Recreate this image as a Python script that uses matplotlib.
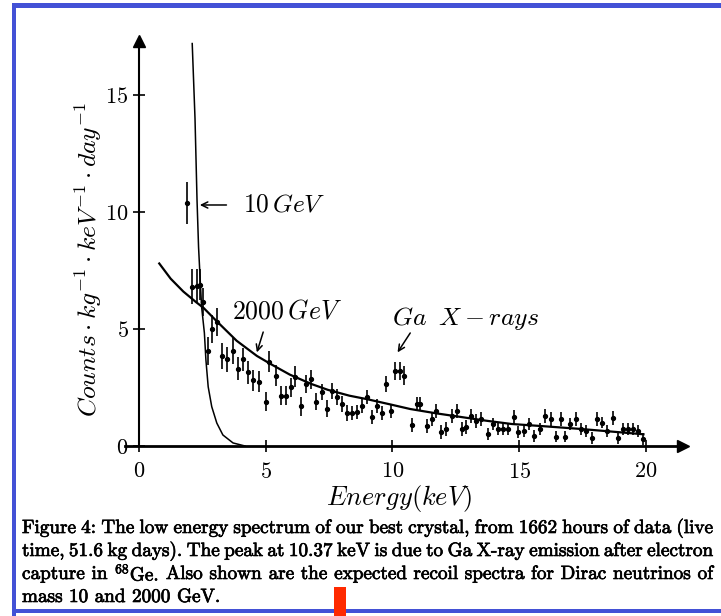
import matplotlib
matplotlib.use("Agg")
import matplotlib.pyplot as plt
import matplotlib.patheffects as pe
from matplotlib.patches import Rectangle

plt.rcParams.update({
    "font.family": "cmr10",
    "mathtext.fontset": "cm",
    "axes.formatter.use_mathtext": True,
    "axes.unicode_minus": False,
})

# ── Data ─────────────────────────────────────────────────────────────────────
energy = [1.90, 2.10, 2.28, 2.40, 2.53, 2.73, 2.88, 3.08, 3.28, 3.48,
          3.72, 3.90, 4.10, 4.30, 4.50, 4.75, 5.00, 5.14, 5.40, 5.60,
          5.80, 6.00, 6.17, 6.40, 6.60, 6.80, 7.00, 7.20, 7.43, 7.63,
          7.83, 8.00, 8.20, 8.40, 8.60, 8.80, 9.00, 9.20, 9.40, 9.57,
          9.76, 9.96, 10.10, 10.28, 10.47, 10.75, 10.95, 11.10, 11.35, 11.55,
          11.73, 11.93, 12.10, 12.33, 12.53, 12.73, 12.90, 13.10, 13.30, 13.50,
          13.75, 13.95, 14.15, 14.35, 14.55, 14.80, 14.95, 15.20, 15.40, 15.60,
          15.80, 16.00, 16.25, 16.45, 16.65, 16.80, 17.00, 17.23, 17.43, 17.63,
          17.87, 18.06, 18.26, 18.46, 18.70, 18.90, 19.10, 19.30, 19.50, 19.70,
          19.90]
counts = [10.4, 6.8, 6.85, 6.9, 6.15, 4.06, 5.0, 5.3, 3.85, 3.7,
          4.06, 3.3, 3.7, 3.15, 2.8, 2.75, 1.9, 3.6, 3.0, 2.15,
          2.15, 2.5, 2.95, 1.7, 2.65, 2.85, 1.9, 2.3, 1.6, 2.35,
          2.1, 1.8, 1.4, 1.4, 1.45, 1.7, 2.1, 1.25, 1.7, 1.4,
          2.65, 1.5, 3.2, 3.2, 3.0, 0.9, 1.8, 1.8, 0.85, 1.15,
          1.5, 0.6, 0.73, 1.3, 1.5, 0.73, 0.8, 1.3, 1.07, 1.15,
          0.5, 0.95, 0.73, 0.73, 0.73, 1.24, 0.6, 0.64, 0.95, 0.43,
          0.73, 1.3, 1.15, 0.4, 1.15, 0.4, 0.95, 1.15, 0.73, 0.64,
          0.34, 1.15, 1.0, 0.64, 1.2, 0.34, 0.73, 0.73, 0.73, 0.64,
          0.3]
errors = [0.9, 0.75, 0.7, 0.65, 0.6, 0.6, 0.6, 0.6, 0.55, 0.55,
          0.55, 0.5, 0.5, 0.5, 0.45, 0.45, 0.4, 0.45, 0.45, 0.4,
          0.4, 0.4, 0.45, 0.4, 0.4, 0.4, 0.35, 0.35, 0.35, 0.35,
          0.35, 0.35, 0.35, 0.3, 0.3, 0.3, 0.3, 0.3, 0.3, 0.3,
          0.35, 0.3, 0.4, 0.4, 0.4, 0.3, 0.3, 0.3, 0.3, 0.3,
          0.3, 0.3, 0.3, 0.3, 0.3, 0.3, 0.3, 0.3, 0.3, 0.3,
          0.25, 0.25, 0.25, 0.25, 0.25, 0.3, 0.25, 0.25, 0.25, 0.25,
          0.25, 0.3, 0.3, 0.25, 0.3, 0.25, 0.25, 0.3, 0.25, 0.25,
          0.25, 0.3, 0.25, 0.25, 0.3, 0.25, 0.25, 0.25, 0.25, 0.25,
          0.25]

# expected recoil spectrum, 10 GeV neutrino
e_10gev = [2.10, 2.21, 2.29, 2.35, 2.41, 2.47, 2.58, 2.64, 2.73, 2.87,
           3.07, 3.31, 3.71, 4.18]
c_10gev = [17.2, 14.0, 10.5, 8.5, 7.2, 5.95, 4.83, 3.68, 2.53, 1.68,
           0.98, 0.47, 0.13, 0.0]

# expected recoil spectrum, 2000 GeV neutrino
e_2000gev = [0.80, 1.25, 1.75, 2.25, 2.55, 3.05, 3.85, 4.65, 5.20, 5.95,
             6.80, 7.45, 8.30, 9.00, 9.90, 10.70, 11.70, 12.70, 13.70, 14.70,
             15.90, 17.40, 18.60, 19.90]
c_2000gev = [7.8, 7.15, 6.6, 6.15, 5.9, 5.35, 4.5, 3.85, 3.5, 3.05,
             2.65, 2.4, 2.15, 2.0, 1.78, 1.58, 1.4, 1.24, 1.08, 0.94,
             0.85, 0.73, 0.62, 0.5]

x_ticks = [0, 5, 10, 15, 20]
y_ticks = [0, 5, 10, 15]

caption = [
    "Figure 4: The low energy spectrum of our best crystal, from 1662 hours of data (live",
    "time, 51.6 kg days). The peak at 10.37 keV is due to Ga X-ray emission after electron",
    "capture in $^{68}$Ge. Also shown are the expected recoil spectra for Dirac neutrinos of",
    "mass 10 and 2000 GeV.",
]

W, H = 721, 616
fig = plt.figure(figsize=(W / 100, H / 100), dpi=100)
fig.patch.set_facecolor("white")
ax = fig.add_axes([0.1576, 0.2532, 0.8087, 0.6989])
ax.set_xlim(-1.0, 22.0)
ax.set_ylim(-0.6, 17.8)
ax.patch.set_alpha(0)

ax.errorbar(energy, counts, yerr=errors, xerr=0.05, fmt="o", ms=2.8,
            color="black", elinewidth=1.2, capsize=0, zorder=3)
ax.plot(e_10gev, c_10gev, color="black", lw=1.1)
ax.plot(e_2000gev, c_2000gev, color="black", lw=1.6)

# axes drawn as arrows through the origin
for side in ("top", "right"):
    ax.spines[side].set_visible(False)
ax.spines["left"].set_position(("data", 0))
ax.spines["bottom"].set_position(("data", 0))
ax.spines["bottom"].set_bounds(-0.55, 21.2)
ax.spines["left"].set_bounds(0, 17.1)
ax.spines["bottom"].set_linewidth(2.0)
ax.spines["left"].set_linewidth(1.5)
ax.plot([21.45], [0], marker=">", ms=9, color="black", clip_on=False)
ax.plot([0], [17.3], marker="^", ms=8, color="black", clip_on=False)

ax.set_xticks(x_ticks)
ax.set_yticks(y_ticks)
ax.tick_params(direction="inout", length=9, width=1.2, labelsize=16,
               colors="black")
ax.tick_params(axis="x", pad=7)
ax.tick_params(axis="y", pad=3)

# labels
fig.text(88 / W, 1 - 260 / H,
         r"$Counts \cdot kg^{-1} \cdot keV^{-1} \cdot day^{-1}$",
         rotation=90, ha="center", va="center", fontsize=18.5)
fig.text(399 / W, 1 - 499 / H, r"$Energy(keV)$",
         ha="center", va="center", fontsize=19)

# annotations
ax.text(4.1, 10.3, r"$10\,GeV$", fontsize=18.3, va="center", ha="left")
ax.text(3.67, 5.73, r"$2000\,GeV$", fontsize=18.7, va="center", ha="left")
ax.text(9.98, 5.47, r"$Ga\;\;X - rays$", fontsize=18.5, va="center", ha="left")
arrow = dict(arrowstyle="->,head_length=0.45,head_width=0.22", lw=1.1,
             color="black", shrinkA=0, shrinkB=0)
ax.annotate("", xy=(2.4, 10.3), xytext=(3.45, 10.3), arrowprops=arrow)
ax.annotate("", xy=(4.65, 4.0), xytext=(4.9, 4.87), arrowprops=arrow)
ax.annotate("", xy=(10.2, 4.0), xytext=(10.7, 4.83), arrowprops=arrow)


# ── Caption, justified word by word ──────────────────────────────────────────
def caption_line(text, y_px, x0_px, x1_px, justify=True):
    renderer = fig.canvas.get_renderer()
    words = text.split(" ")
    style = dict(fontsize=13.8, va="center", ha="left",
                 path_effects=[pe.withStroke(linewidth=0.5, foreground="black")])
    items = [fig.text(0, 0, w, **style) for w in words]
    widths = [t.get_window_extent(renderer).width for t in items]
    if justify and len(words) > 1:
        gap = (x1_px - x0_px - sum(widths)) / (len(words) - 1)
    else:
        gap = 6.5
    x = x0_px
    for t, w in zip(items, widths):
        t.set_position((x / W, 1 - y_px / H))
        x += w + gap


line_y = [528, 551, 574, 597]
for i, (line, y) in enumerate(zip(caption, line_y)):
    caption_line(line, y, 22, 713, justify=(i < len(caption) - 1))

# slide frame and marker from the source page
blue = "#4351D6"
fig.add_artist(Rectangle((12 / W, 0), 4 / W, 1 - 3 / H, transform=fig.transFigure,
                         color=blue, lw=0))
fig.add_artist(Rectangle((12 / W, 1 - 8 / H), 1, 5 / H, transform=fig.transFigure,
                         color=blue, lw=0))
fig.add_artist(Rectangle((12 / W, 3 / H), 1, 4 / H, transform=fig.transFigure,
                         color=blue, lw=0))
fig.add_artist(Rectangle((334 / W, 0), 12 / W, 29 / H, transform=fig.transFigure,
                         color="#FF2A00", lw=0))

fig.savefig("out.png", dpi=100)
